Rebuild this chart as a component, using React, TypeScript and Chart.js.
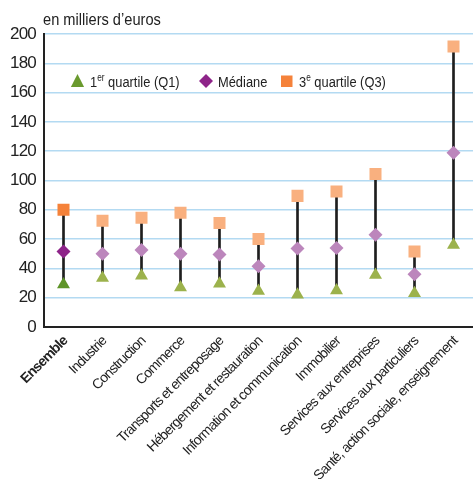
import React, { useEffect, useRef } from 'react';
import { Chart, registerables } from 'chart.js';

Chart.register(...registerables);

const categories = [
  'Ensemble',
  'Industrie',
  'Construction',
  'Commerce',
  'Transports et entreposage',
  'Hébergement et restauration',
  'Information et communication',
  'Immobilier',
  'Services aux entreprises',
  'Services aux particuliers',
  'Santé, action sociale, enseignement',
];
const q1 = [29, 33.5, 35, 27, 29.5, 24.5, 22, 25, 35.5, 23, 56];
const median = [51.5, 50, 52.5, 50, 49.5, 41.5, 53.5, 54, 63, 36, 119];
const q3 = [80, 72.5, 74.5, 78, 71, 60, 89.5, 92.5, 104.5, 51.5, 191.5];
const yTicks = [0, 20, 40, 60, 80, 100, 120, 140, 160, 180, 200];
const yUnit = 'en milliers d\u2019euros';
const legendLabels = [
  { main: '1', sup: 'er', rest: ' quartile (Q1)' },
  { main: 'Médiane', sup: '', rest: '' },
  { main: '3', sup: 'e', rest: ' quartile (Q3)' },
];

const FONT = "'Liberation Sans Narrow', 'Arial Narrow', 'Liberation Sans', Arial, sans-serif";
const GREEN_D = '#5e9428';
const GREEN_L = '#9cb24c';
const PURPLE_D = '#8e2489';
const PURPLE_L = '#bc86bc';
const ORANGE_D = '#f5823a';
const ORANGE_L = '#f9b07f';
const SPACING = '-0.8px';

const spacingPlugin = {
  id: 'spacing',
  beforeUpdate(chart: any) {
    (chart.ctx as any).letterSpacing = SPACING;
  },
  beforeDraw(chart: any) {
    (chart.ctx as any).letterSpacing = SPACING;
  },
};

// draws horizontally condensed text
function condText(ctx: CanvasRenderingContext2D, text: string, x: number, y: number, sx: number) {
  ctx.save();
  ctx.translate(x, y);
  ctx.scale(sx, 1);
  ctx.fillText(text, 0, 0);
  const w = ctx.measureText(text).width * sx;
  ctx.restore();
  return w;
}

const overlayPlugin = {
  id: 'overlay',
  afterDraw(chart: any) {
    const ctx = chart.ctx as CanvasRenderingContext2D;
    const area = chart.chartArea;
    ctx.save();
    (ctx as any).letterSpacing = '0px';
    // unit label
    ctx.fillStyle = '#222';
    ctx.font = `17px ${FONT}`;
    ctx.textBaseline = 'alphabetic';
    ctx.textAlign = 'left';
    condText(ctx, yUnit, area.left - 1, 25, 0.86);

    // legend
    const baseY = 87;
    const cy = 81;
    const sx = 0.83;
    const drawLabel = (x: number, l: { main: string; sup: string; rest: string }) => {
      ctx.fillStyle = '#222';
      ctx.font = `15.5px ${FONT}`;
      let w = condText(ctx, l.main, x, baseY, sx);
      if (l.sup) {
        ctx.font = `10px ${FONT}`;
        w += condText(ctx, l.sup, x + w, baseY - 6, sx);
        ctx.font = `15.5px ${FONT}`;
      }
      if (l.rest) condText(ctx, l.rest, x + w, baseY, sx);
    };
    // triangle
    const tx = 77.5;
    ctx.fillStyle = '#6a9a2e';
    ctx.beginPath();
    ctx.moveTo(tx, cy - 7);
    ctx.lineTo(tx + 6.6, cy + 6);
    ctx.lineTo(tx - 6.6, cy + 6);
    ctx.closePath();
    ctx.fill();
    drawLabel(90, legendLabels[0]);
    // diamond
    const dx = 206;
    ctx.fillStyle = PURPLE_D;
    ctx.beginPath();
    ctx.moveTo(dx, cy - 7);
    ctx.lineTo(dx + 7, cy);
    ctx.lineTo(dx, cy + 7);
    ctx.lineTo(dx - 7, cy);
    ctx.closePath();
    ctx.fill();
    drawLabel(218, legendLabels[1]);
    // square
    ctx.fillStyle = ORANGE_D;
    ctx.fillRect(281, 75.5, 11.5, 11.5);
    drawLabel(299, legendLabels[2]);
    ctx.restore();
  },
};

export default function App() {
  const ref = useRef<HTMLCanvasElement | null>(null);
  useEffect(() => {
    document.body.style.margin = '0';
    const canvas = ref.current!;
    const chart = new Chart(canvas, {
      type: 'bar',
      data: {
        labels: categories,
        datasets: [
          {
            type: 'line',
            label: 'Q1',
            data: q1,
            showLine: false,
            pointStyle: 'triangle',
            pointRadius: 7.5,
            pointHoverRadius: 7.5,
            pointBackgroundColor: q1.map((_, i) => (i === 0 ? GREEN_D : GREEN_L)),
            pointBorderWidth: 0,
            order: 0,
          } as any,
          {
            type: 'line',
            label: 'Médiane',
            data: median,
            showLine: false,
            pointStyle: 'rectRot',
            pointRadius: 7,
            pointHoverRadius: 7,
            pointBackgroundColor: median.map((_, i) => (i === 0 ? PURPLE_D : PURPLE_L)),
            pointBorderWidth: 0,
            order: 0,
          } as any,
          {
            type: 'line',
            label: 'Q3',
            data: q3,
            showLine: false,
            pointStyle: 'rect',
            pointRadius: 8.5,
            pointHoverRadius: 8.5,
            pointBackgroundColor: q3.map((_, i) => (i === 0 ? ORANGE_D : ORANGE_L)),
            pointBorderWidth: 0,
            order: 0,
          } as any,
          {
            type: 'bar',
            label: 'range',
            data: q1.map((v, i) => [v, q3[i]]),
            backgroundColor: '#1e1e1e',
            barThickness: 2,
            borderSkipped: false,
            order: 5,
          } as any,
        ],
      },
      options: {
        animation: false,
        responsive: false,
        maintainAspectRatio: false,
        layout: { autoPadding: false, padding: { top: 34, right: 0, left: 0, bottom: 0 } },
        plugins: {
          legend: { display: false },
          tooltip: { enabled: false },
          title: { display: false },
        },
        scales: {
          x: {
            offset: true,
            grid: { display: false, drawTicks: false },
            border: { display: true, color: '#222', width: 2 },
            ticks: {
              autoSkip: false,
              maxRotation: 45,
              minRotation: 45,
              padding: 6,
              labelOffset: 2,
              color: '#222',
              font: (c: any) =>
                c.index === 0
                  ? { family: FONT, size: 14, weight: 'bold' }
                  : { family: FONT, size: 14 },
            },
            afterFit: (s: any) => {
              s.height = 152;
              s.paddingLeft = 0;
              s.paddingRight = 0;
            },
          },
          y: {
            min: 0,
            max: 200,
            afterBuildTicks: (s: any) => {
              s.ticks = yTicks.map((v) => ({ value: v }));
            },
            grid: { color: '#b3daf2', lineWidth: 1.5, drawTicks: false },
            border: { display: true, color: '#222', width: 2 },
            ticks: {
              padding: 8,
              color: '#222',
              font: { family: FONT, size: 17 },
            },
            afterFit: (s: any) => {
              s.width = 44;
            },
          },
        },
      },
      plugins: [spacingPlugin, overlayPlugin],
    });
    return () => chart.destroy();
  }, []);
  return <canvas ref={ref} width={473} height={479} style={{ display: 'block' }} />;
}
